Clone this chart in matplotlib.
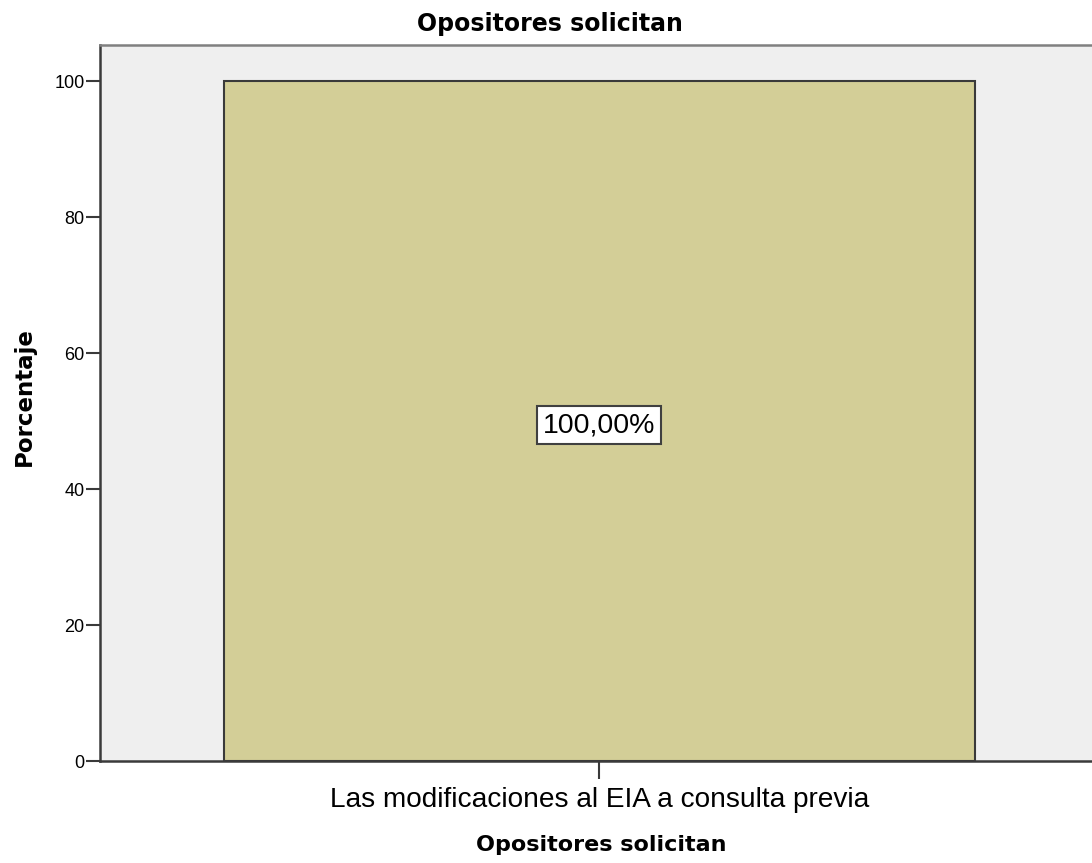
import matplotlib
matplotlib.use("Agg")
import matplotlib.pyplot as plt

categories = ["Las modificaciones al EIA a consulta previa"]
percentages = [100.0]
y_ticks = [0, 20, 40, 60, 80, 100]

W, H = 1092, 863
fig = plt.figure(figsize=(W / 100, H / 100), dpi=100)
ax = fig.add_axes([100 / W, (H - 761) / H, 992 / W, (761 - 45) / H])
ax.set_facecolor("#efefef")

x = list(range(len(categories)))
bars = ax.bar(x, percentages, width=1.0, color="#d3ce97",
              edgecolor="#3a3a3a", linewidth=1.5, zorder=2)

for rect, val in zip(bars, percentages):
    ax.text(rect.get_x() + rect.get_width() / 2, val / 2 - 0.6,
            f"{val:.2f}%".replace(".", ","),
            ha="center", va="center", fontsize=20.5, family="Liberation Sans",
            bbox=dict(boxstyle="square,pad=0.2", fc="white", ec="#404040", lw=1.5),
            zorder=3)

ax.set_xlim(-0.665, 0.656)
ax.set_ylim(0, 105.3)
ax.set_yticks(y_ticks)
ax.set_yticklabels([str(v) for v in y_ticks], fontsize=13, family="Liberation Sans")
ax.set_xticks(x)
ax.set_xticklabels(categories, fontsize=20.2, family="Liberation Sans")
ax.tick_params(axis="y", length=10, width=1.5, color="#3a3a3a", pad=1)
ax.tick_params(axis="x", length=13, width=1.5, color="#3a3a3a", pad=6)

for side in ["left", "bottom"]:
    ax.spines[side].set_color("#3a3a3a")
    ax.spines[side].set_linewidth(1.8)
ax.spines["top"].set_color("#808080")
ax.spines["top"].set_linewidth(1.8)
ax.spines["right"].set_visible(False)

fig.text(550 / W, 1 - 24 / H, "Opositores solicitan", ha="center", va="center",
         fontsize=17, fontweight="bold", family="DejaVu Sans")
fig.text(601 / W, 1 - 845 / H, "Opositores solicitan", ha="center", va="center",
         fontsize=16, fontweight="bold", family="DejaVu Sans")
fig.text(24 / W, 1 - 397 / H, "Porcentaje", ha="center", va="center",
         rotation=90, fontsize=16.5, fontweight="bold", family="DejaVu Sans")

fig.savefig("out.png", dpi=100, facecolor="white")
